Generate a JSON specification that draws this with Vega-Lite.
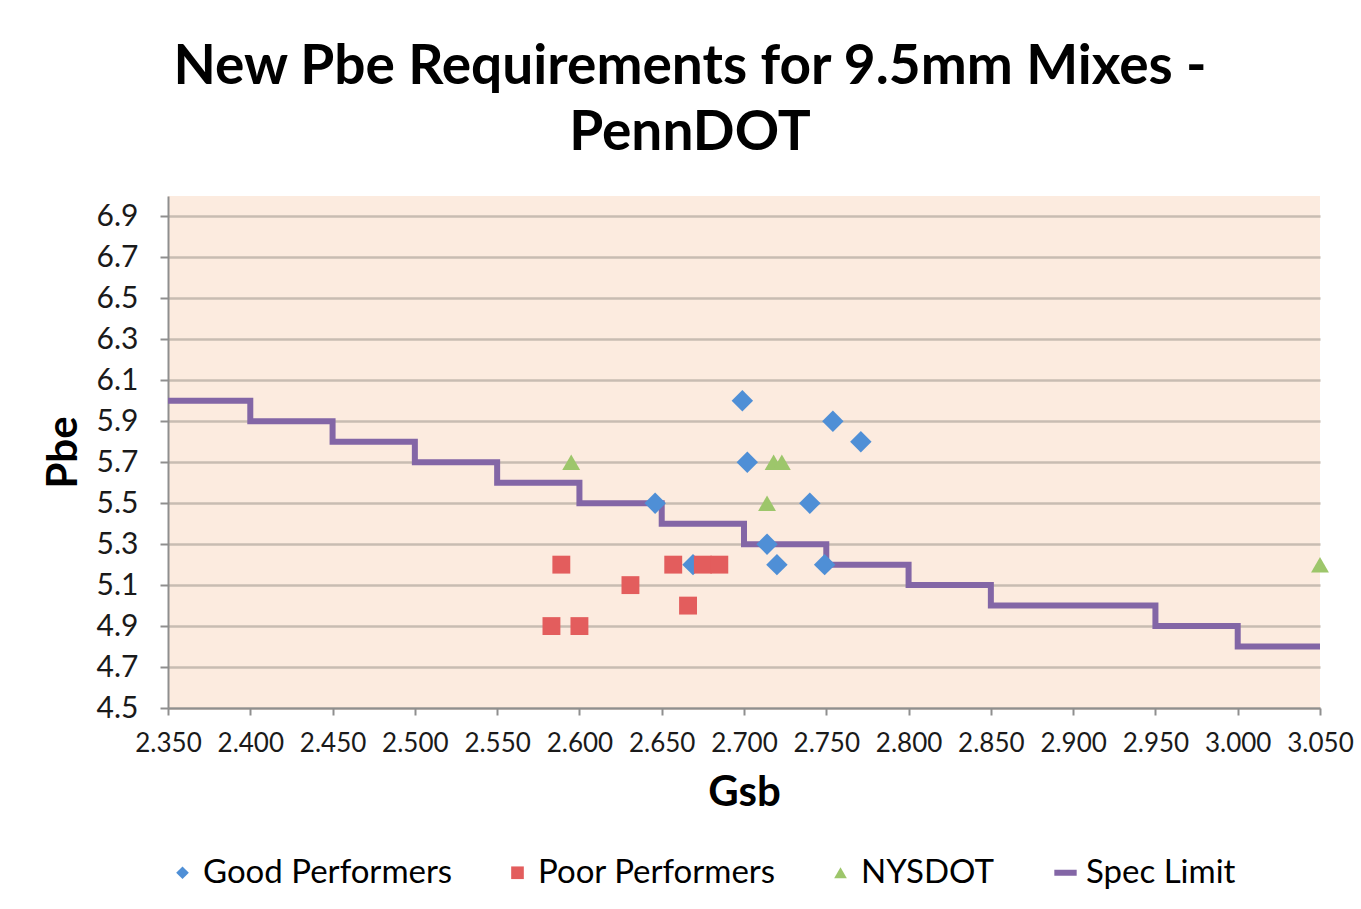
{
  "$schema": "https://vega.github.io/schema/vega-lite/v6.json",
  "width": 1152,
  "height": 512,
  "autosize": {"type": "none"},
  "padding": {"left": 168, "top": 196, "right": 41, "bottom": 201},
  "background": "white",
  "title": {
    "text": ["New Pbe Requirements for 9.5mm Mixes -", "PennDOT"],
    "font": "Lato, sans-serif",
    "fontSize": 55,
    "fontWeight": "bold",
    "color": "#000000",
    "anchor": "middle",
    "dx": -54,
    "lineHeight": 66,
    "offset": 34
  },
  "config": {
    "view": {"fill": "#fcebdf", "stroke": null},
    "font": "Lato, sans-serif",
    "legend": {
      "title": null,
      "orient": "none",
      "direction": "horizontal",
      "legendX": -2,
      "legendY": 660,
      "labelFontSize": 33,
      "labelLimit": 0,
      "labelColor": "#000000",
      "labelOffset": 4,
      "columnPadding": 48,
      "symbolSize": 160,
      "symbolStrokeWidth": 4
    }
  },
  "data": {
    "values": [
      {"series": "Spec Limit", "gsb": 2.35, "pbe": 6.0},
      {"series": "Spec Limit", "gsb": 2.40, "pbe": 5.9},
      {"series": "Spec Limit", "gsb": 2.45, "pbe": 5.8},
      {"series": "Spec Limit", "gsb": 2.50, "pbe": 5.7},
      {"series": "Spec Limit", "gsb": 2.55, "pbe": 5.6},
      {"series": "Spec Limit", "gsb": 2.60, "pbe": 5.5},
      {"series": "Spec Limit", "gsb": 2.65, "pbe": 5.4},
      {"series": "Spec Limit", "gsb": 2.70, "pbe": 5.3},
      {"series": "Spec Limit", "gsb": 2.75, "pbe": 5.2},
      {"series": "Spec Limit", "gsb": 2.80, "pbe": 5.1},
      {"series": "Spec Limit", "gsb": 2.85, "pbe": 5.0},
      {"series": "Spec Limit", "gsb": 2.90, "pbe": 5.0},
      {"series": "Spec Limit", "gsb": 2.95, "pbe": 4.9},
      {"series": "Spec Limit", "gsb": 3.00, "pbe": 4.8},
      {"series": "Spec Limit", "gsb": 3.05, "pbe": 4.8},
      {"series": "Good Performers", "gsb": 2.699, "pbe": 6.0},
      {"series": "Good Performers", "gsb": 2.754, "pbe": 5.9},
      {"series": "Good Performers", "gsb": 2.771, "pbe": 5.8},
      {"series": "Good Performers", "gsb": 2.702, "pbe": 5.7},
      {"series": "Good Performers", "gsb": 2.646, "pbe": 5.5},
      {"series": "Good Performers", "gsb": 2.740, "pbe": 5.5},
      {"series": "Good Performers", "gsb": 2.714, "pbe": 5.3},
      {"series": "Good Performers", "gsb": 2.720, "pbe": 5.2},
      {"series": "Good Performers", "gsb": 2.749, "pbe": 5.2},
      {"series": "Good Performers", "gsb": 2.669, "pbe": 5.2},
      {"series": "Poor Performers", "gsb": 2.589, "pbe": 5.2},
      {"series": "Poor Performers", "gsb": 2.657, "pbe": 5.2},
      {"series": "Poor Performers", "gsb": 2.675, "pbe": 5.2},
      {"series": "Poor Performers", "gsb": 2.685, "pbe": 5.2},
      {"series": "Poor Performers", "gsb": 2.631, "pbe": 5.1},
      {"series": "Poor Performers", "gsb": 2.666, "pbe": 5.0},
      {"series": "Poor Performers", "gsb": 2.583, "pbe": 4.9},
      {"series": "Poor Performers", "gsb": 2.600, "pbe": 4.9},
      {"series": "NYSDOT", "gsb": 2.595, "pbe": 5.7},
      {"series": "NYSDOT", "gsb": 2.718, "pbe": 5.7},
      {"series": "NYSDOT", "gsb": 2.723, "pbe": 5.7},
      {"series": "NYSDOT", "gsb": 2.714, "pbe": 5.5},
      {"series": "NYSDOT", "gsb": 3.05, "pbe": 5.2}
    ]
  },
  "encoding": {
    "x": {
      "field": "gsb",
      "type": "quantitative",
      "scale": {"domain": [2.35, 3.05], "nice": false, "zero": false},
      "axis": {
        "title": "Gsb",
        "values": [2.35, 2.4, 2.45, 2.5, 2.55, 2.6, 2.65, 2.7, 2.75, 2.8, 2.85, 2.9, 2.95, 3.0, 3.05],
        "format": ".3f",
        "grid": false,
        "labelFontSize": 26,
        "labelColor": "#1a1a1a",
        "labelPadding": 15,
        "labelFlush": false,
        "tickSize": 7,
        "tickColor": "#8f8f8f",
        "tickWidth": 2,
        "domainColor": "#8f8f8f",
        "domainWidth": 2,
        "titleFontSize": 42,
        "titleFontWeight": "bold",
        "titleColor": "#000000",
        "titlePadding": 16
      }
    },
    "y": {
      "field": "pbe",
      "type": "quantitative",
      "scale": {"domain": [4.5, 7.0], "nice": false, "zero": false},
      "axis": {
        "title": "Pbe",
        "values": [4.5, 4.7, 4.9, 5.1, 5.3, 5.5, 5.7, 5.9, 6.1, 6.3, 6.5, 6.7, 6.9],
        "format": ".1f",
        "grid": true,
        "gridColor": "#c8bcb2",
        "gridWidth": 2.5,
        "labelFontSize": 30,
        "labelColor": "#1a1a1a",
        "labelPadding": 22,
        "tickSize": 8,
        "tickColor": "#8f8f8f",
        "tickWidth": 2,
        "domainColor": "#8f8f8f",
        "domainWidth": 2,
        "titleFontSize": 42,
        "titleFontWeight": "bold",
        "titleColor": "#000000",
        "titlePadding": 11
      }
    }
  },
  "layer": [
    {
      "transform": [{"filter": "datum.series === 'Spec Limit'"}],
      "mark": {"type": "line", "interpolate": "step-after", "strokeWidth": 6, "strokeCap": "butt"},
      "encoding": {
        "color": {
          "field": "series",
          "type": "nominal",
          "legend": {
            "encode": {
              "symbols": {
                "update": {
                  "size": {"signal": "datum.value === 'Spec Limit' ? 500 : 160"},
                  "strokeWidth": {"signal": "datum.value === 'Spec Limit' ? 6 : 0"}
                }
              }
            }
          }
        }
      }
    },
    {
      "transform": [{"filter": "datum.series !== 'Spec Limit'"}],
      "mark": {"type": "point", "filled": true, "opacity": 1, "strokeWidth": 1},
      "encoding": {
        "size": {
          "condition": {"test": "datum.series === 'Good Performers'", "value": 460},
          "value": 320
        },
        "shape": {
          "field": "series",
          "type": "nominal",
          "scale": {
            "domain": ["Good Performers", "Poor Performers", "NYSDOT", "Spec Limit"],
            "range": ["diamond", "square", "triangle-up", "stroke"]
          },
          "legend": {
            "encode": {
              "symbols": {
                "update": {
                  "size": {"signal": "datum.value === 'Spec Limit' ? 500 : 160"},
                  "strokeWidth": {"signal": "datum.value === 'Spec Limit' ? 6 : 0"}
                }
              }
            }
          }
        },
        "color": {
          "field": "series",
          "type": "nominal",
          "scale": {
            "domain": ["Good Performers", "Poor Performers", "NYSDOT", "Spec Limit"],
            "range": ["#4f8fd6", "#e35d5d", "#9dc66b", "#8366a6"]
          },
          "legend": {
            "encode": {
              "symbols": {
                "update": {
                  "size": {"signal": "datum.value === 'Spec Limit' ? 500 : 160"},
                  "strokeWidth": {"signal": "datum.value === 'Spec Limit' ? 6 : 0"}
                }
              }
            }
          }
        }
      }
    }
  ]
}
